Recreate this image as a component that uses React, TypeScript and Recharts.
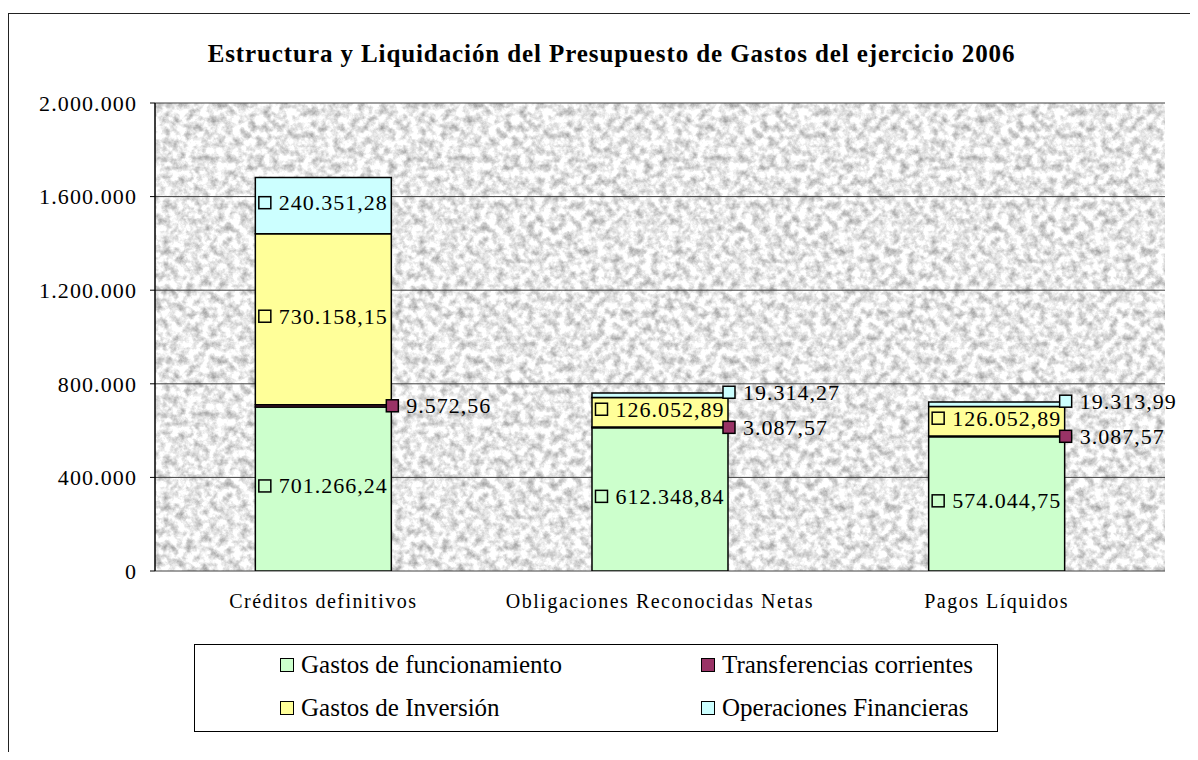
import React from 'react';
import { BarChart, Bar, XAxis, YAxis, CartesianGrid, Legend, LabelList } from 'recharts';

const categories = ['Créditos definitivos', 'Obligaciones Reconocidas Netas', 'Pagos Líquidos'];
const gastosFuncionamiento = [701266.24, 612348.84, 574044.75];
const transferenciasCorrientes = [9572.56, 3087.57, 3087.57];
const gastosInversion = [730158.15, 126052.89, 126052.89];
const operacionesFinancieras = [240351.28, 19314.27, 19313.99];
const yTicks = [0, 400000, 800000, 1200000, 1600000, 2000000];
const edgeTicks = [0, 1, 2, 3];
const seriesNames = ['Gastos de funcionamiento', 'Transferencias corrientes', 'Gastos de Inversión', 'Operaciones Financieras'];
const seriesColors = ['#CCFFCC', '#993366', '#FFFF99', '#CCFFFF'];
const title = 'Estructura y Liquidación del Presupuesto de Gastos del ejercicio 2006';

const seriesKeys = ['f', 't', 'i', 'o'];
const seriesValues = [gastosFuncionamiento, transferenciasCorrientes, gastosInversion, operacionesFinancieras];

const data = categories.map((name, ci) => {
  const row: any = { name };
  seriesKeys.forEach((k, si) => {
    row[k] = seriesValues[si][ci];
  });
  return row;
});

const FONT = "'Liberation Serif', 'Times New Roman', serif";
const groupDots = (s: string) => s.replace(/\B(?=(\d{3})+(?!\d))/g, '.');
const fmtTick = (v: number) => groupDots(String(Math.round(v)));
const fmtLabel = (v: number) => {
  const [a, b] = v.toFixed(2).split('.');
  return groupDots(a) + ',' + b;
};

const LABEL_FS = 22;
const LABEL_LS = 1.0;
const estW = (s: string) =>
  s.split('').reduce((w, c) => w + (c === '.' || c === ',' ? 0.25 : 0.5) * LABEL_FS + LABEL_LS, 0);

const makeLabel = (color: string, si: number) => (props: any) => {
  const X = Number(props.x);
  const Y = Number(props.y);
  const W = Number(props.width);
  const H = Number(props.height);
  const text = fmtLabel(Number(props.value));
  const sq = 12;
  let sqCx: number;
  let cy: number;
  let tx: number;
  if (Math.abs(H) < 15) {
    sqCx = X + W + 1;
    cy = Y + H / 2 + (si === 3 ? -3 : 0);
    tx = sqCx + sq / 2 + 8;
  } else {
    const tw = estW(text);
    const gw = sq + 8 + tw;
    const left = X + (W - gw) / 2;
    sqCx = left + sq / 2;
    cy = Y + H / 2 - 3;
    tx = left + sq + 8;
  }
  return (
    <g>
      <rect x={sqCx - sq / 2} y={cy - sq / 2} width={sq} height={sq} fill={color} stroke="#000" strokeWidth={1.5} />
      <text
        x={tx}
        y={cy}
        dominantBaseline="central"
        fontFamily={FONT}
        fontSize={LABEL_FS}
        letterSpacing={LABEL_LS}
        fill="#000"
      >
        {text}
      </text>
    </g>
  );
};

const legendCols = [85, 506];
const legendRowCenters = [20, 63];

const renderLegend = (props: any) => {
  const items = [...(props.payload || [])].sort(
    (a: any, b: any) => seriesNames.indexOf(a.value) - seriesNames.indexOf(b.value)
  );
  return (
    <div style={{ position: 'relative', width: '100%', height: '100%' }}>
      {items.map((it: any, i: number) => {
        const col = i % 2;
        const row = Math.floor(i / 2);
        return (
          <div
            key={it.value}
            style={{
              position: 'absolute',
              left: legendCols[col],
              top: legendRowCenters[row] - 15,
              height: 30,
              display: 'flex',
              alignItems: 'center',
              whiteSpace: 'nowrap',
            }}
          >
            <span
              style={{
                width: 14,
                height: 14,
                boxSizing: 'border-box',
                border: '1.5px solid #000',
                background: it.color,
                display: 'inline-block',
                marginRight: 7,
              }}
            />
            <span style={{ fontFamily: FONT, fontSize: 25, color: '#000', lineHeight: '30px' }}>{it.value}</span>
          </div>
        );
      })}
    </div>
  );
};

export default function App() {
  return (
    <div style={{ position: 'relative', width: 1190, height: 744, overflow: 'hidden', background: '#fff' }}>
      <svg width="0" height="0" style={{ position: 'absolute' }}>
        <defs>
          <filter id="graniteNoise" x="0" y="0" width="1" height="1" colorInterpolationFilters="sRGB">
            <feTurbulence type="fractalNoise" baseFrequency="0.13" numOctaves={4} seed={7} stitchTiles="stitch" />
            <feColorMatrix
              type="matrix"
              values="0.7 0 0 0 0.56  0.7 0 0 0 0.56  0.7 0 0 0 0.56  0 0 0 0 1"
            />
          </filter>
          <pattern id="granite" patternUnits="userSpaceOnUse" width="256" height="256">
            <rect width="256" height="256" fill="#fff" filter="url(#graniteNoise)" />
          </pattern>
        </defs>
      </svg>
      <div
        style={{
          position: 'absolute',
          left: 0,
          top: 5,
          width: 1300,
          height: 900,
          border: '1px solid #222',
        }}
      />
      <div style={{ position: 'absolute', left: 0, top: 0 }}>
        <BarChart
          width={1190}
          height={744}
          data={data}
          margin={{ top: 95, right: 33, left: 0, bottom: 141 }}
          barCategoryGap="29.8%"
        >
          <CartesianGrid vertical={false} stroke="#404040" fill="url(#granite)" fillOpacity={1} />
          <XAxis
            xAxisId="edge"
            type="number"
            domain={[0, 3]}
            ticks={edgeTicks}
            allowDataOverflow
            height={0}
            tick={false}
            tickSize={6}
            tickLine={{ stroke: '#000', strokeWidth: 1 }}
            axisLine={{ stroke: '#000', strokeWidth: 1.5 }}
          />
          <XAxis
            dataKey="name"
            height={40}
            axisLine={false}
            tickLine={false}
            tickSize={0}
            tickMargin={23}
            interval={0}
            tick={{ fontFamily: FONT, fontSize: 20, fill: '#000', letterSpacing: 1.5 }}
          />
          <YAxis
            width={147}
            domain={[0, 2000000]}
            ticks={yTicks}
            interval={0}
            allowDataOverflow
            tickFormatter={fmtTick}
            tickSize={5}
            tickMargin={13}
            axisLine={{ stroke: '#000', strokeWidth: 1.5 }}
            tickLine={{ stroke: '#000' }}
            tick={{ fontFamily: FONT, fontSize: 22, fill: '#000', letterSpacing: 1.1 }}
          />
          <YAxis
            yAxisId="r"
            orientation="right"
            width={0}
            domain={[0, 2000000]}
            tick={false}
            tickLine={false}
            axisLine={{ stroke: '#808080' }}
          />
          {seriesKeys.map((k, si) => (
            <Bar
              key={k}
              dataKey={k}
              name={seriesNames[si]}
              stackId="a"
              fill={seriesColors[si]}
              stroke="#000"
              strokeWidth={1.5}
              isAnimationActive={false}
            >
              <LabelList dataKey={k} content={makeLabel(seriesColors[si], si)} />
            </Bar>
          ))}
          <Legend
            layout="horizontal"
            verticalAlign="middle"
            align="center"
            wrapperStyle={{
              left: 186,
              top: 636,
              width: 804,
              height: 88,
              border: '1px solid #000',
              boxSizing: 'border-box',
              background: '#fff',
            }}
            content={renderLegend}
          />
        </BarChart>
      </div>
      <div
        style={{
          position: 'absolute',
          left: 0,
          top: 33,
          width: 1207,
          textAlign: 'center',
          fontFamily: FONT,
          fontWeight: 'bold',
          fontSize: 25,
          lineHeight: '25px',
          letterSpacing: 0.9,
          color: '#000',
          whiteSpace: 'nowrap',
        }}
      >
        {title}
      </div>
    </div>
  );
}
